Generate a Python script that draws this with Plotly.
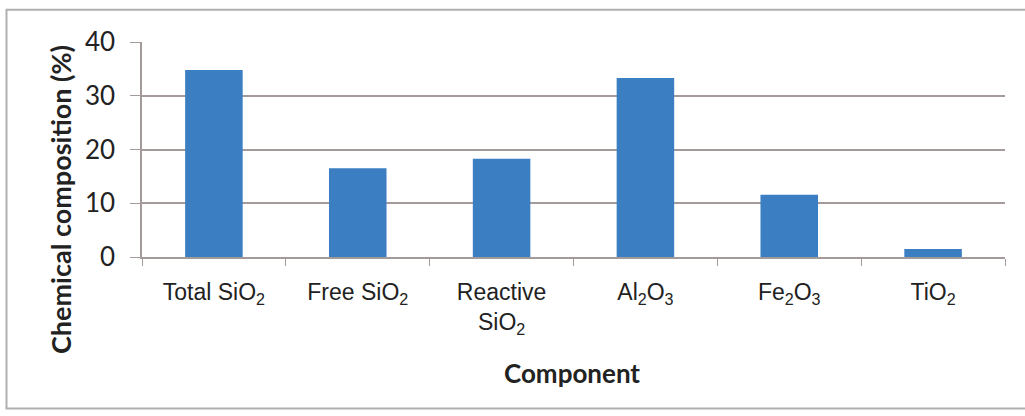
import plotly.graph_objects as go

# Chemical composition of the components (%)
components = [
    "Total SiO<sub>2</sub>",
    "Free SiO<sub>2</sub>",
    "Reactive<br>SiO<sub>2</sub>",
    "Al<sub>2</sub>O<sub>3</sub>",
    "Fe<sub>2</sub>O<sub>3</sub>",
    "TiO<sub>2</sub>",
]
composition = [34.8, 16.5, 18.3, 33.3, 11.6, 1.5]
y_ticks = [0, 10, 20, 30, 40]

axis_grey = "#a49a9a"
bar_blue = "#3b7fc2"

fig = go.Figure(
    go.Bar(
        x=components,
        y=composition,
        marker=dict(color=bar_blue, line=dict(width=0)),
        width=0.4,
    )
)

fig.update_layout(
    width=1025,
    height=416,
    margin=dict(l=142, r=20, t=42, b=159),
    paper_bgcolor="white",
    plot_bgcolor="white",
    showlegend=False,
    xaxis=dict(
        type="category",
        tickson="boundaries",
        ticks="outside",
        ticklen=7,
        tickcolor=axis_grey,
        showline=True,
        linecolor=axis_grey,
        linewidth=1.5,
        showgrid=False,
        ticklabelstandoff=14,
        tickfont=dict(family="Liberation Sans, Arial, sans-serif", size=23, color="#222"),
    ),
    yaxis=dict(
        range=[0, 40],
        tickvals=y_ticks,
        ticks="outside",
        ticklen=10,
        tickcolor=axis_grey,
        showline=True,
        linecolor=axis_grey,
        linewidth=1.5,
        gridcolor=axis_grey,
        gridwidth=1.5,
        zeroline=False,
        ticklabelstandoff=10,
        tickfont=dict(family="Lato, Open Sans, sans-serif", size=26, color="#222"),
    ),
    annotations=[
        dict(
            text="<b>Chemical composition (%)</b>",
            xref="paper", yref="paper",
            x=-0.095, y=0.265,
            xanchor="center", yanchor="middle",
            textangle=-90,
            showarrow=False,
            font=dict(family="Lato, Open Sans, sans-serif", size=27, color="#222"),
        ),
        dict(
            text="<b>Component</b>",
            xref="paper", yref="paper",
            x=0.498, y=-0.54,
            xanchor="center", yanchor="middle",
            showarrow=False,
            font=dict(family="Lato, Open Sans, sans-serif", size=26, color="#222"),
        ),
    ],
    shapes=[
        dict(
            type="rect",
            xref="paper", yref="paper",
            x0=-0.157, x1=1.04, y0=-0.705, y1=1.15,
            line=dict(color="#b0b0b0", width=2),
            fillcolor="rgba(0,0,0,0)",
            layer="below",
        )
    ],
)

fig.write_html("out.html")
